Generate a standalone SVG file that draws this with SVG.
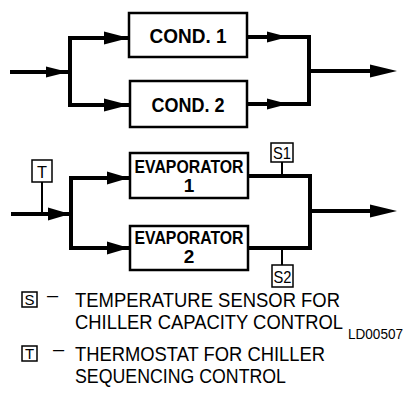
<svg xmlns="http://www.w3.org/2000/svg" width="409" height="405" viewBox="0 0 409 405">
<style>
.box{fill:#fff;stroke:#000;stroke-width:2.5}
.sbox{fill:#fff;stroke:#000;stroke-width:1.5}
.ln{fill:none;stroke:#000;stroke-width:4;stroke-linejoin:miter;stroke-linecap:square}
.stem{stroke:#000;stroke-width:2}
.ah{fill:#000}
.lbl{font-family:"Liberation Sans",Arial,sans-serif;font-weight:bold;fill:#000;text-anchor:middle}
.sl{font-family:"Liberation Sans",Arial,sans-serif;fill:#000;text-anchor:middle}
.lg{font-family:"Liberation Sans",Arial,sans-serif;fill:#000}
</style>
<g id="connectors">
<path class="ln" d="M12,72 H70"/>
<path class="ln" d="M70,38 V105"/>
<path class="ln" d="M70,38 H128"/>
<path class="ln" d="M70,105 H128"/>
<path class="ln" d="M248,37 H309 V104 H248"/>
<path class="ln" d="M309,71 H380"/>
<polygon class="ah" points="46,66.5 68,72 46,77.5"/>
<polygon class="ah" points="104,31.5 129,38 104,44.5"/>
<polygon class="ah" points="104,98.5 129,105 104,111.5"/>
<polygon class="ah" points="267,31.5 288,37 267,42.5"/>
<polygon class="ah" points="267,98.5 288,104 267,109.5"/>
<polygon class="ah" points="370,64.5 397,71 370,77.5"/>
<path class="ln" d="M13,214 H70"/>
<path class="ln" d="M71,178 V248"/>
<path class="ln" d="M71,178 H128"/>
<path class="ln" d="M71,248 H128"/>
<path class="ln" d="M248,176 H310 V248 H248"/>
<path class="ln" d="M310,211 H380"/>
<polygon class="ah" points="48,207.5 70,214 48,220.5"/>
<polygon class="ah" points="107,171.5 129,178 107,184.5"/>
<polygon class="ah" points="107,241.5 129,248 107,254.5"/>
<polygon class="ah" points="370,204.5 397,211 370,217.5"/>
<line class="stem" x1="42" y1="182" x2="42" y2="213"/>
<line class="stem" x1="282" y1="162" x2="282" y2="175"/>
<line class="stem" x1="282" y1="249" x2="282" y2="265"/>
</g>
<g id="cond1">
<rect class="box" x="129" y="13" width="118" height="44"/>
<text class="lbl" x="188" y="43" font-size="20" textLength="77" lengthAdjust="spacingAndGlyphs">COND. 1</text>
</g>
<g id="cond2">
<rect class="box" x="130" y="81" width="117" height="46"/>
<text class="lbl" x="188" y="112" font-size="20" textLength="73" lengthAdjust="spacingAndGlyphs">COND. 2</text>
</g>
<g id="evap1">
<rect class="box" x="130" y="153" width="118" height="45"/>
<text class="lbl" x="189" y="173" font-size="19" textLength="109" lengthAdjust="spacingAndGlyphs">EVAPORATOR</text>
<text class="lbl" x="189" y="192" font-size="19">1</text>
</g>
<g id="evap2">
<rect class="box" x="130" y="226" width="118" height="44"/>
<text class="lbl" x="189" y="244" font-size="19" textLength="109" lengthAdjust="spacingAndGlyphs">EVAPORATOR</text>
<text class="lbl" x="189" y="263" font-size="19">2</text>
</g>
<g id="T">
<rect class="sbox" x="32" y="160" width="20" height="22"/>
<text class="sl" x="42" y="178" font-size="17" textLength="10" lengthAdjust="spacingAndGlyphs">T</text>
</g>
<g id="S1">
<rect class="sbox" x="271" y="143" width="22" height="19"/>
<text class="sl" x="282" y="159" font-size="17" textLength="18" lengthAdjust="spacingAndGlyphs">S1</text>
</g>
<g id="S2">
<rect class="sbox" x="272" y="265" width="21" height="22"/>
<text class="sl" x="282.5" y="283" font-size="17" textLength="18" lengthAdjust="spacingAndGlyphs">S2</text>
</g>
<g id="legend">
<rect class="sbox" x="22" y="292" width="15" height="15"/>
<text class="sl" x="29.5" y="305" font-size="15">S</text>
<text class="lg" x="47" y="302" font-size="20">–</text>
<text class="lg" x="75" y="307" font-size="21" textLength="265" lengthAdjust="spacingAndGlyphs">TEMPERATURE SENSOR FOR</text>
<text class="lg" x="75" y="329" font-size="21" textLength="268" lengthAdjust="spacingAndGlyphs">CHILLER CAPACITY CONTROL</text>
<text class="lg" x="348" y="339" font-size="14" textLength="55" lengthAdjust="spacingAndGlyphs">LD00507</text>
<rect class="sbox" x="22" y="346" width="15" height="15"/>
<text class="sl" x="29.5" y="359" font-size="15">T</text>
<text class="lg" x="53" y="356" font-size="20">–</text>
<text class="lg" x="75" y="361" font-size="21" textLength="250" lengthAdjust="spacingAndGlyphs">THERMOSTAT FOR CHILLER</text>
<text class="lg" x="75" y="383" font-size="21" textLength="211" lengthAdjust="spacingAndGlyphs">SEQUENCING CONTROL</text>
</g>
</svg>
